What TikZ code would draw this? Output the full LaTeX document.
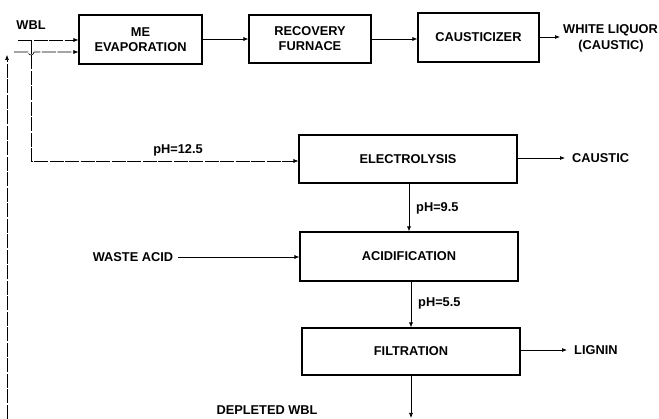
\documentclass[tikz,border=0pt]{standalone}
\usepackage{fontspec}
\setmainfont{Liberation Sans}
\usetikzlibrary{arrows.meta}
\begin{document}
\begin{tikzpicture}[x=1pt,y=-1pt,
  every node/.style={font=\fontsize{12.8}{15}\selectfont\bfseries, inner sep=0pt},
  procbox/.style={draw, line width=1.1pt, align=center},
  flow/.style={line width=0.7pt, -{Latex[length=5pt,width=4pt]}},
  feed/.style={flow, line width=0.6pt, dash pattern=on 14pt off 1.5pt}]
\useasboundingbox (0,0) rectangle (659,419);
% top row
\node[procbox, minimum width=123pt, minimum height=49pt] (me) at (140.5,39.5) {ME\\EVAPORATION};
\node[procbox, minimum width=122pt, minimum height=48pt] (rf) at (310,39) {RECOVERY\\FURNACE};
\node[procbox, minimum width=121pt, minimum height=49pt] (ca) at (478.5,37.5) {CAUSTICIZER};
\coordinate (wl) at (560,37);
\node[anchor=west] (wltext) at (563,30) {WHITE LIQUOR};
\node (wlc) at (611,46) {(CAUSTIC)};
\draw[flow] (me.east |- rf.west) -- (rf.west);
\draw[flow] (rf.east) -- (rf.east -| ca.west);
\draw[flow] (ca.east |- wl) -- (wl);
% process column
\node[procbox, minimum width=218pt, minimum height=48pt] (el) at (408,159) {ELECTROLYSIS};
\node[procbox, minimum width=218pt, minimum height=49pt] (ac) at (409,256.5) {ACIDIFICATION};
\node[procbox, minimum width=218pt, minimum height=47pt] (fi) at (411,351.5) {FILTRATION};
% WBL feed
\node (wbl) at (31,25) {WBL};
\coordinate (f1) at (18,40);
\coordinate (j1) at (31,40);
\coordinate (f2) at (14,52);
\coordinate (j2) at (31,161);
\draw[feed] (f1) -- (f1 -| me.west);
\draw[feed] (f2) -- (28,52) arc[start angle=180, end angle=360, radius=3pt] -- (f2 -| me.west);
\draw[feed] (j1) -- (j2) -- (j2 -| el.west);
\node (ph125) at (178,150) {pH=12.5};
% return line
\coordinate (rb) at (7,419);
\coordinate (rt) at (7,55);
\draw[feed] (rb) -- (rt);
% outputs
\coordinate (cs) at (565,158);
\node[anchor=west] (cst) at (572,158) {CAUSTIC};
\draw[flow] (el.east |- cs) -- (cs);
\draw[flow] (el.south) -- (el.south -| ac.north) -- (ac.north);
\node[anchor=west] (ph95) at (416,208) {pH=9.5};
\node (wa) at (133,257) {WASTE ACID};
\coordinate (wae) at (178,257);
\draw[flow] (wae) -- (wae -| ac.west);
\draw[flow] (ac.south -| fi.north) -- (fi.north);
\node[anchor=west] (ph55) at (418,303) {pH=5.5};
\coordinate (lg) at (567,350);
\node[anchor=west] (lgt) at (574,350) {LIGNIN};
\draw[flow] (fi.east |- lg) -- (lg);
\coordinate (db) at (411,418);
\draw[flow] (fi.south) -- (db);
\node (dwbl) at (267,410) {DEPLETED WBL};
\end{tikzpicture}
\end{document}
